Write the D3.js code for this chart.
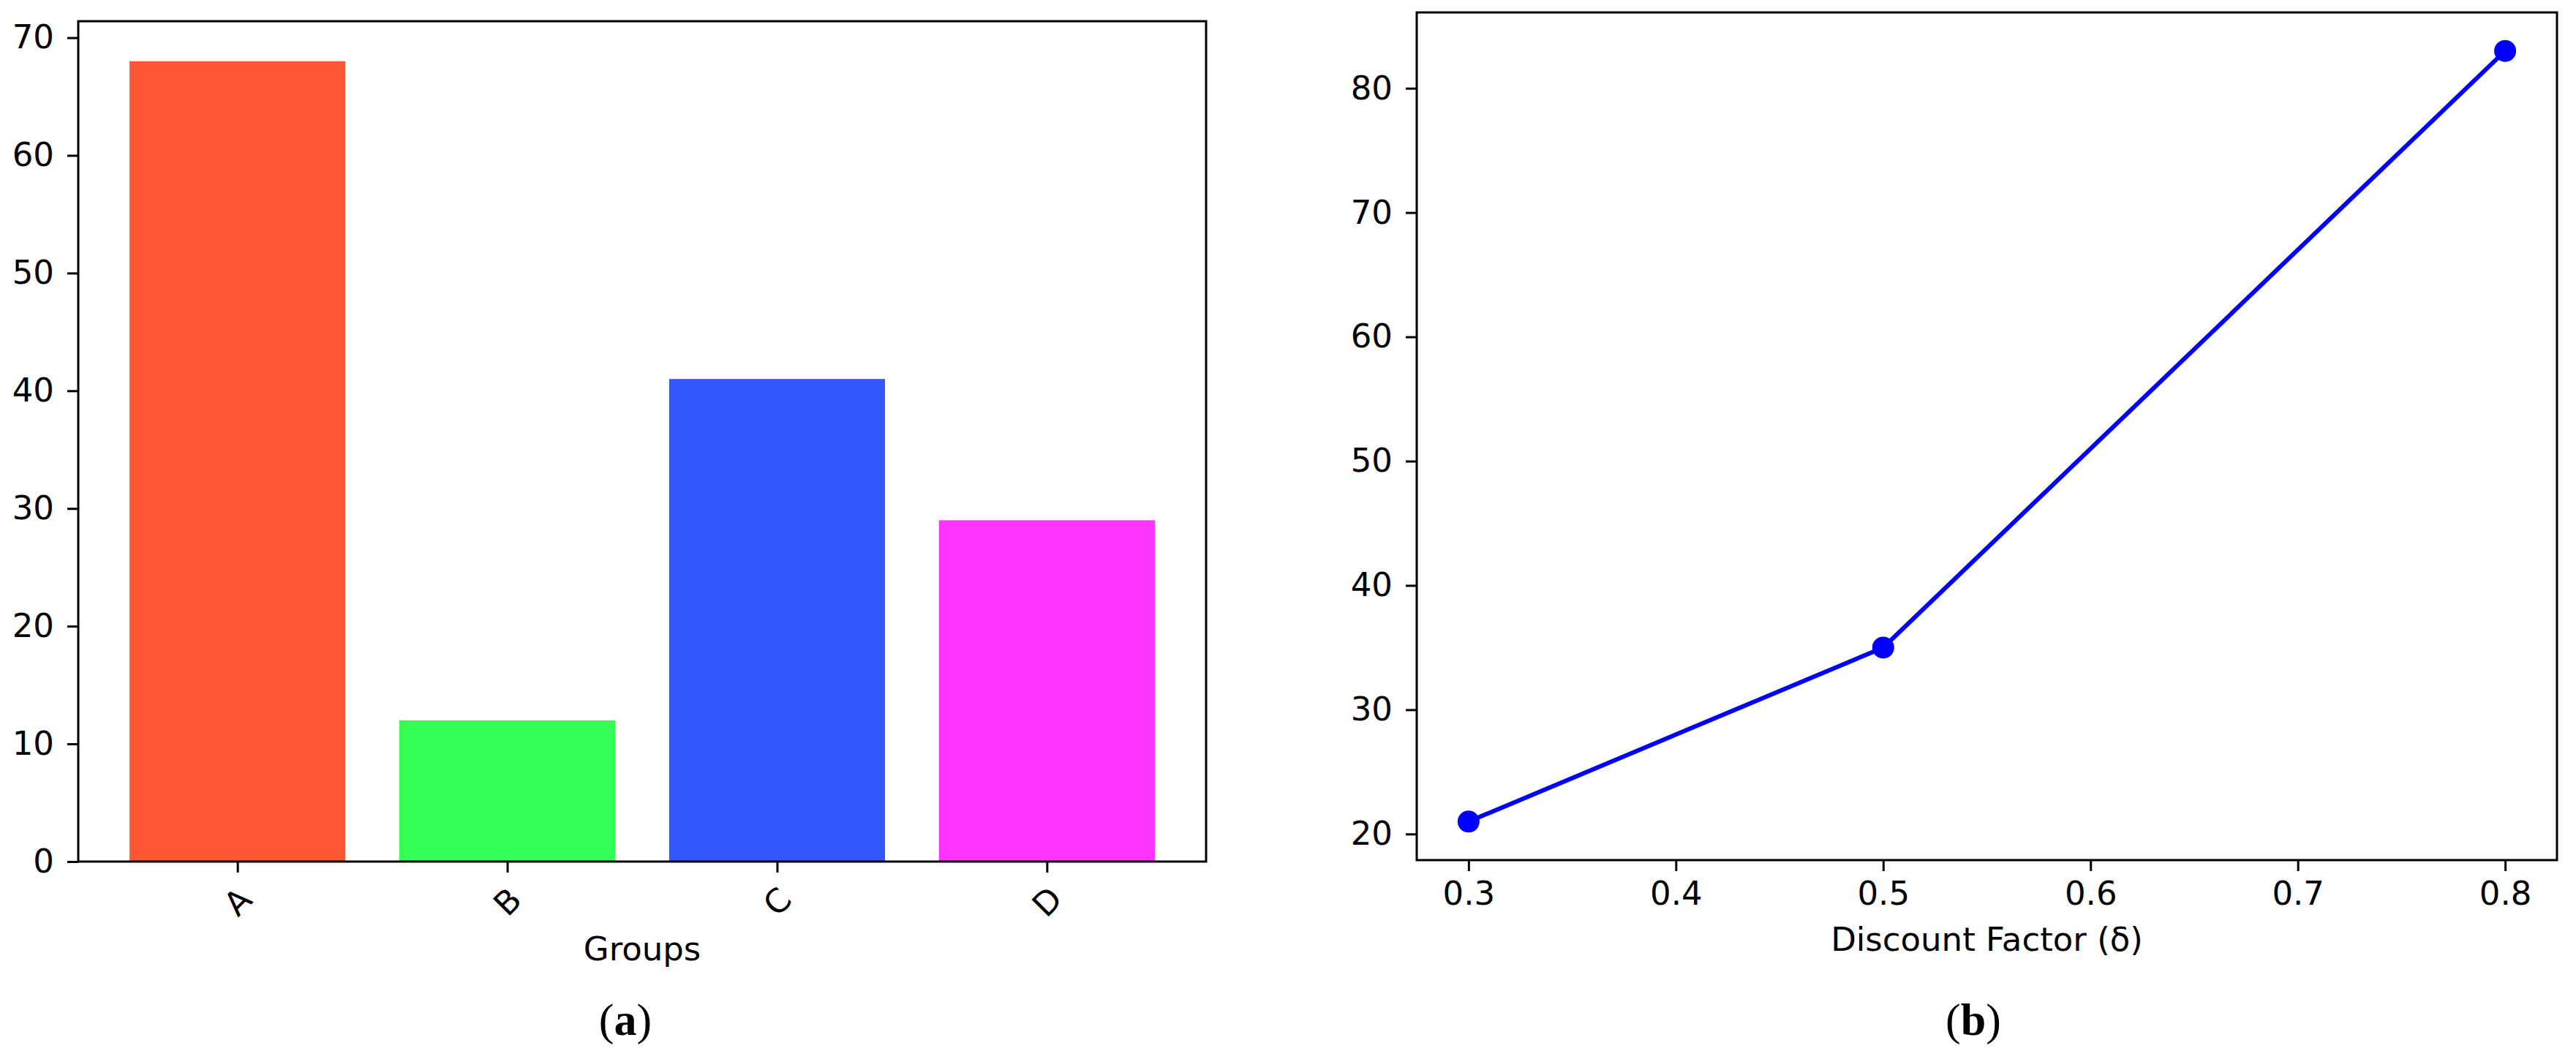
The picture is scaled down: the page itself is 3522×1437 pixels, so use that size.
<!DOCTYPE html>
<html><head><meta charset="utf-8">
<script src="https://cdn.jsdelivr.net/npm/d3@7"></script>
<style>body{margin:0;background:#fff}svg text{font-family:"DejaVu Sans",sans-serif;fill:#000}</style>
</head><body><svg id="c" width="3522" height="1437"></svg>
<script>
const groups = ["A","B","C","D"];
const groupValues = [68,12,41,29];
const groupColors = ["#FF5733","#33FF57","#3357FF","#FF33FF"];
const leftTicks = [0,10,20,30,40,50,60,70];
const deltas = [0.3,0.5,0.8];
const outcomes = [21,35,83];
const rightXTicks = [0.3,0.4,0.5,0.6,0.7,0.8];
const rightYTicks = [20,30,40,50,60,70,80];

const svg = d3.select("#c");
const FS = 45;

// Panel a
const L = {l:107, r:1649, t:29, b:1178};
const xa = d3.scaleLinear().domain([-0.59,3.59]).range([L.l,L.r]);
const ya = d3.scaleLinear().domain([0,71.4]).range([L.b,L.t]);
const ga = svg.append("g");
ga.selectAll("rect.bar").data(groups).enter().append("rect")
  .attr("x",(d,i)=>xa(i-0.4)).attr("width",(d,i)=>xa(i+0.4)-xa(i-0.4))
  .attr("y",(d,i)=>ya(groupValues[i])).attr("height",(d,i)=>ya(0)-ya(groupValues[i]))
  .attr("fill",(d,i)=>groupColors[i]);
const yAxA = ga.append("g").attr("transform",`translate(${L.l},0)`)
  .call(d3.axisLeft(ya).tickValues(leftTicks).tickSize(15).tickPadding(18));
const xAxA = ga.append("g").attr("transform",`translate(0,${L.b})`)
  .call(d3.axisBottom(xa).tickValues([0,1,2,3]).tickFormat(i=>groups[i]).tickSize(15).tickPadding(10));
xAxA.selectAll("text").attr("transform",function(){return "";});
xAxA.selectAll(".tick text").attr("dy",null).attr("y",0)
  .attr("text-anchor","middle").attr("dominant-baseline","central")
  .attr("transform","translate(0,55) rotate(-45)");
ga.append("rect").attr("x",L.l).attr("y",L.t).attr("width",L.r-L.l).attr("height",L.b-L.t)
  .attr("fill","none").attr("stroke","#000").attr("stroke-width",3);
ga.append("text").attr("x",(L.l+L.r)/2).attr("y",1313).attr("text-anchor","middle")
  .attr("font-size",FS).text("Groups");

// Panel b
const R = {l:1937, r:3496, t:17, b:1176};
const xb = d3.scaleLinear().domain([0.275,0.825]).range([R.l,R.r]);
const yb = d3.scaleLinear().domain([17.9,86.1]).range([R.b,R.t]);
const gb = svg.append("g");
gb.append("g").attr("transform",`translate(${R.l},0)`)
  .call(d3.axisLeft(yb).tickValues(rightYTicks).tickSize(15).tickPadding(18));
gb.append("g").attr("transform",`translate(0,${R.b})`)
  .call(d3.axisBottom(xb).tickValues(rightXTicks).tickFormat(d3.format(".1f")).tickSize(15).tickPadding(14));
gb.append("path").datum(deltas.map((d,i)=>[d,outcomes[i]]))
  .attr("d",d3.line().x(d=>xb(d[0])).y(d=>yb(d[1])))
  .attr("fill","none").attr("stroke","#0000FF").attr("stroke-width",6);
gb.selectAll("circle").data(deltas).enter().append("circle")
  .attr("cx",d=>xb(d)).attr("cy",(d,i)=>yb(outcomes[i])).attr("r",15).attr("fill","#0000FF");
gb.append("rect").attr("x",R.l).attr("y",R.t).attr("width",R.r-R.l).attr("height",R.b-R.t)
  .attr("fill","none").attr("stroke","#000").attr("stroke-width",3);
gb.append("text").attr("x",(R.l+R.r)/2).attr("y",1300).attr("text-anchor","middle")
  .attr("font-size",FS).text("Discount Factor (δ)");

svg.selectAll(".domain").remove();
svg.selectAll(".tick line").attr("stroke","#000").attr("stroke-width",3);
svg.selectAll(".tick text").attr("font-size",FS).attr("font-family","DejaVu Sans").attr("fill","#000");

// captions
[["a",855],["b",2698]].forEach(([t,x])=>{
  const tx = svg.append("text").attr("x",x).attr("y",1415).attr("text-anchor","middle")
    .attr("font-size",62).style("font-family","'Liberation Serif',serif");
  tx.append("tspan").text("(");
  tx.append("tspan").attr("font-weight","bold").text(t);
  tx.append("tspan").text(")");
});
</script></body></html>
